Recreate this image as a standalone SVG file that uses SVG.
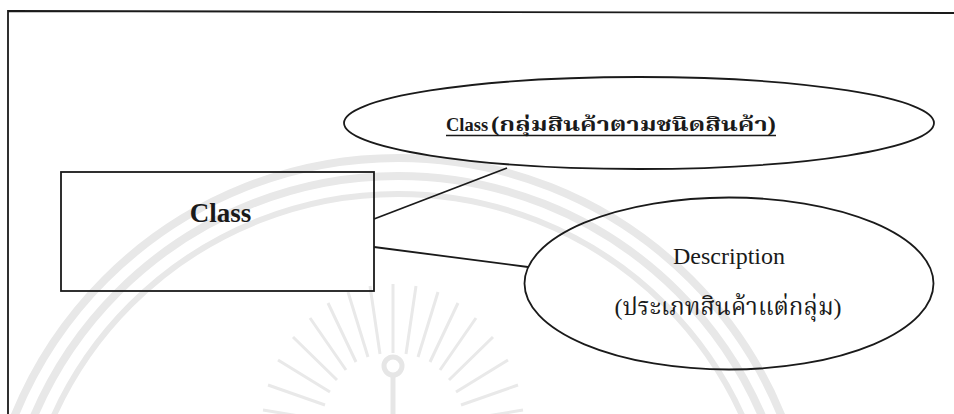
<svg xmlns="http://www.w3.org/2000/svg" width="954" height="414" viewBox="0 0 954 414">
<style>
.ln{stroke:#1a1a1a;stroke-width:1.8;fill:none}
.nd{stroke:#1a1a1a;stroke-width:1.8;fill:none}
.t{font-family:"Liberation Serif","Noto Serif Thai","Noto Sans Thai","DejaVu Serif",serif;fill:#1a1a1a}
.wm{fill:none;stroke:#e8e8e8}
</style>
<rect width="954" height="414" fill="#ffffff"/>
<g id="watermark">
<circle class="wm" cx="398" cy="572" r="414" stroke-width="8"/>
<circle class="wm" cx="398" cy="572" r="396" stroke-width="8"/>
<circle class="wm" cx="398" cy="572" r="378" stroke-width="6"/>
<g stroke="#e9e9e9" stroke-width="3">
<path d="M323 420L263 410M325 405L268 385M330 392L278 360M337 380L293 337M346 370L310 318M356 362L328 303M368 357L348 292M380 354L370 286M393 353L393 284M406 354L416 286M418 357L438 292M430 362L458 303M440 370L476 318M449 380L493 337M456 392L508 360M461 405L518 385M463 420L523 410"/>
</g>
<g fill="none" stroke="#e6e6e6" stroke-width="5">
<circle cx="393" cy="366" r="9"/>
<path d="M393 375V414"/>
</g>
</g>
<g id="frame">
<path class="ln" d="M8 414V11L954 13"/>
</g>
<g id="connectors">
<line class="ln" x1="374" y1="219" x2="507" y2="168"/>
<line class="ln" x1="374" y1="247" x2="528" y2="267"/>
</g>
<g id="node-class">
<rect class="nd" x="61" y="172" width="313" height="119"/>
<text class="t" x="220.5" y="222" font-size="27" font-weight="bold" text-anchor="middle">Class</text>
</g>
<g id="node-class-attr">
<ellipse class="nd" cx="639" cy="123" rx="295" ry="46"/>
<text class="t" y="131" font-weight="bold"><tspan x="446" font-size="18.5">Class</tspan><tspan x="491" font-size="20" textLength="285" lengthAdjust="spacingAndGlyphs">(กลุ่มสินค้าตามชนิดสินค้า)</tspan></text>
<line x1="446" y1="135.5" x2="776" y2="135.5" stroke="#1a1a1a" stroke-width="1.4"/>
</g>
<g id="node-description">
<ellipse class="nd" cx="729" cy="283.5" rx="204.5" ry="86"/>
<text class="t" x="729" y="264" font-size="24" text-anchor="middle">Description</text>
<text class="t" x="728" y="315" font-size="24" text-anchor="middle">(ประเภทสินค้าแต่กลุ่ม)</text>
</g>
</svg>
